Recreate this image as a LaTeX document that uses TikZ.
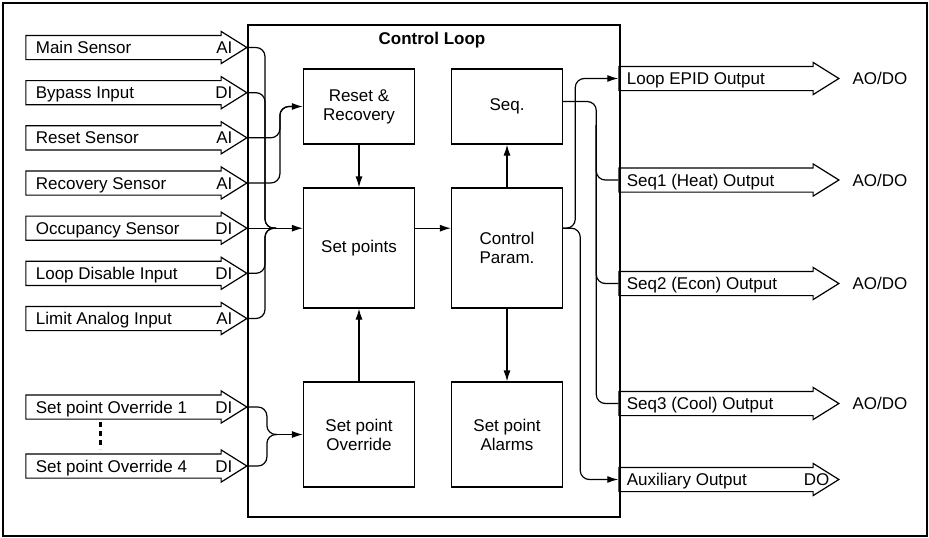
\documentclass[tikz,border=0pt]{standalone}
\usepackage{fontspec}
\setmainfont{Liberation Sans}
\usetikzlibrary{positioning,calc,arrows.meta,shapes.arrows}

\begin{document}
\begin{tikzpicture}[
  x=1pt, y=-1pt,
  font=\fontsize{17}{19}\selectfont,
  line width=1.2pt,
  blk/.style   = {draw, align=center, minimum width=111pt, inner sep=2pt},
  inarr/.style = {draw, single arrow, anchor=tip, minimum height=221pt,
                  minimum width=31pt, inner xsep=0pt, inner ysep=11.5pt,
                  single arrow head extend=4pt, single arrow tip angle=64},
  outarr/.style= {inarr, minimum height=220pt},
  lbl/.style   = {inner sep=0pt, text height=12.2pt, text depth=0pt},
  conn/.style  = {rounded corners=9pt},
  flow/.style  = {conn, -{Latex[length=11pt,width=7pt]}},
  vdots/.style = {line width=3pt, dash pattern=on 5pt off 4pt},
]
\useasboundingbox (0,0) rectangle (929,538);

%% ==== outer frame and control loop box ===================================
\draw[line width=2.4pt] (3,3) rectangle (927,536);
\node[draw, minimum width=372pt, minimum height=492pt, inner sep=0pt]
  (loop) at (434,271) {};
\node (title) at (432,40) {\bfseries Control Loop};

%% ==== blocks inside the loop ==============================================
\node[blk, minimum height=75pt]  (rr)    at (359,106.5) {Reset \&\\Recovery};
\node[blk, minimum height=75pt]  (seq)   at (507,106.5) {Seq.};
\node[blk, minimum height=120pt] (sp)    at (359,248)   {Set points};
\node[blk, minimum height=120pt] (cp)    at (507,248)   {Control\\Param.};
\node[blk, minimum height=105pt] (ovr)   at (359,434.5) {Set point\\Override};
\node[blk, minimum height=105pt] (alarm) at (507,434.5) {Set point\\Alarms};

%% ==== inputs on the left ==================================================
\node[inarr] (main)   at (248,47.5)  {};
\node[inarr] (bypass) at (248,92.7)  {};
\node[inarr] (rsens)  at (248,137.8) {};
\node[inarr] (rcsens) at (248,183)   {};
\node[inarr] (occ)    at (248,228.2) {};
\node[inarr] (ldis)   at (248,273.3) {};
\node[inarr] (lim)    at (248,318.5) {};
\node[inarr] (ovr1)   at (248,407)   {};
\node[inarr] (ovr4)   at (248,466)   {};

\node[lbl, anchor=west] (main-l)   at ([xshift=10pt]main.tail)   {Main Sensor};
\node[lbl, anchor=east] (main-t)   at ([xshift=-15pt]main.tip)   {AI};
\node[lbl, anchor=west] (bypass-l) at ([xshift=10pt]bypass.tail) {Bypass Input};
\node[lbl, anchor=east] (bypass-t) at ([xshift=-15pt]bypass.tip) {DI};
\node[lbl, anchor=west] (rsens-l)  at ([xshift=10pt]rsens.tail)  {Reset Sensor};
\node[lbl, anchor=east] (rsens-t)  at ([xshift=-15pt]rsens.tip)  {AI};
\node[lbl, anchor=west] (rcsens-l) at ([xshift=10pt]rcsens.tail) {Recovery Sensor};
\node[lbl, anchor=east] (rcsens-t) at ([xshift=-15pt]rcsens.tip) {AI};
\node[lbl, anchor=west] (occ-l)    at ([xshift=10pt]occ.tail)    {Occupancy Sensor};
\node[lbl, anchor=east] (occ-t)    at ([xshift=-15pt]occ.tip)    {DI};
\node[lbl, anchor=west] (ldis-l)   at ([xshift=10pt]ldis.tail)   {Loop Disable Input};
\node[lbl, anchor=east] (ldis-t)   at ([xshift=-15pt]ldis.tip)   {DI};
\node[lbl, anchor=west] (lim-l)    at ([xshift=10pt]lim.tail)    {Limit Analog Input};
\node[lbl, anchor=east] (lim-t)    at ([xshift=-15pt]lim.tip)    {AI};
\node[lbl, anchor=west] (ovr1-l)   at ([xshift=10pt]ovr1.tail)   {Set point Override 1};
\node[lbl, anchor=east] (ovr1-t)   at ([xshift=-15pt]ovr1.tip)   {DI};
\node[lbl, anchor=west] (ovr4-l)   at ([xshift=10pt]ovr4.tail)   {Set point Override 4};
\node[lbl, anchor=east] (ovr4-t)   at ([xshift=-15pt]ovr4.tip)   {DI};
\draw[vdots] (100,422) -- (100,449);

%% ==== outputs on the right ================================================
\node[outarr] (epid) at (840,78.5)  {};
\node[outarr] (seq1) at (840,180)   {};
\node[outarr] (seq2) at (840,283.5) {};
\node[outarr] (seq3) at (840,403.5) {};
\node[outarr] (aux)  at (840,479.5) {};

\node[lbl, anchor=west] (epid-l) at ([xshift=8pt]epid.tail) {Loop EPID Output};
\node[lbl]              (epid-t) at (880,78.5)  {AO/DO};
\node[lbl, anchor=west] (seq1-l) at ([xshift=8pt]seq1.tail) {Seq1 (Heat) Output};
\node[lbl]              (seq1-t) at (880,180)   {AO/DO};
\node[lbl, anchor=west] (seq2-l) at ([xshift=8pt]seq2.tail) {Seq2 (Econ) Output};
\node[lbl]              (seq2-t) at (880,283.5) {AO/DO};
\node[lbl, anchor=west] (seq3-l) at ([xshift=8pt]seq3.tail) {Seq3 (Cool) Output};
\node[lbl]              (seq3-t) at (880,403.5) {AO/DO};
\node[lbl, anchor=west] (aux-l)  at ([xshift=8pt]aux.tail)  {Auxiliary Output};
\node[lbl, anchor=east] (aux-t)  at ([xshift=-10pt]aux.tip) {DO};

%% ==== junction points =====================================================
\coordinate (jsp)   at (265,228.2);
\coordinate (jsp2)  at (276,228.2);
\coordinate (spin)  at (sp.west|-occ.tip);
\coordinate (spout) at (sp.east|-occ.tip);
\coordinate (cpin)  at (cp.west|-occ.tip);
\coordinate (cpout) at (cp.east|-occ.tip);
\coordinate (jrr)   at ([xshift=-23pt]rr.west);
\coordinate (jovr)  at ([xshift=-36pt]ovr.west);
\coordinate (sqspine) at ([xshift=-22pt]seq3.tail);
\coordinate (sqv)   at ([xshift=-22pt,yshift=278.5pt]seq3.tail);

%% ==== inputs into the blocks ==============================================
\draw[conn] (main.tip)   -| (jsp) -- (jsp2);
\draw[conn] (bypass.tip) -| (jsp) -- (jsp2);
\draw[flow] (occ.tip) -- (spin);
\draw[conn] (ldis.tip)   -| (jsp) -- (jsp2);
\draw[conn] (lim.tip)    -| (jsp) -- (jsp2);

\draw[flow] (rsens.tip)  -| (jrr) -- (rr.west);
\draw[conn] (rcsens.tip) -| (jrr) -- ([xshift=12pt]jrr);

\draw[conn] (ovr1.tip) -| (jovr) -- ([xshift=10pt]jovr);
\draw[conn] (ovr4.tip) -| (jovr) -- ([xshift=10pt]jovr);
\draw[flow] ([xshift=10pt]jovr) -- (ovr.west);

%% ==== flow between the blocks =============================================
\draw[flow] (rr.south) -- (sp.north);
\draw[flow] (ovr.north) -- (sp.south);
\draw[flow] (spout) -- (cpin);
\draw[flow] (cp.north) -- (seq.south);
\draw[flow] (cp.south) -- (alarm.north);

%% ==== blocks to the outputs ===============================================
\draw[flow] (cpout) -| ([xshift=-43pt]epid.tail) -- (epid.tail);
\draw[flow] (cpout) -| ([xshift=-38pt]aux.tail) -- (aux.tail);
\draw[conn] ([yshift=5pt]seq.east) -| (sqspine) -- (seq3.tail);
\draw[conn] (sqv) |- (seq1.tail);
\draw[conn] (sqv) |- (seq2.tail);

\end{tikzpicture}
\end{document}
